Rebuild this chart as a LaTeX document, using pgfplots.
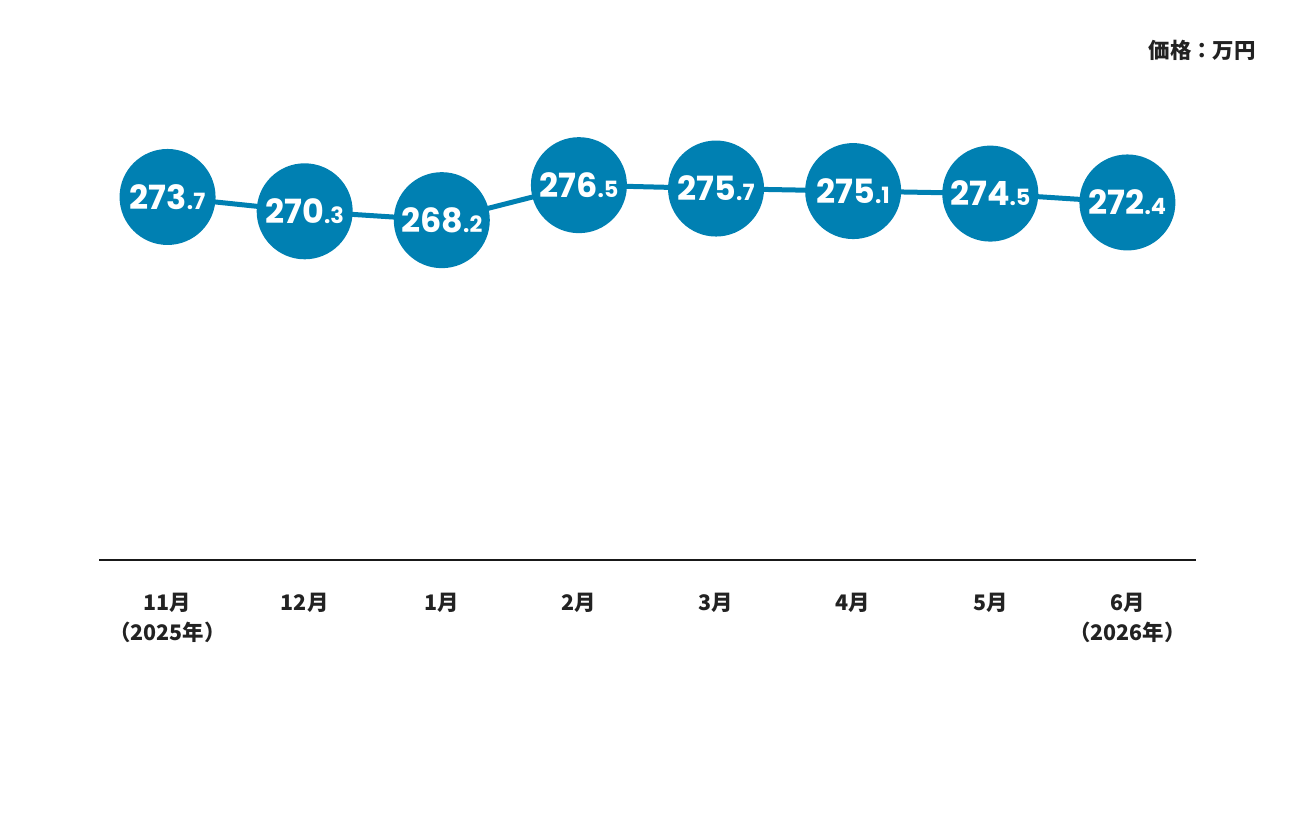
\documentclass[border=0pt]{standalone}
\usepackage{pgfplots}
\pgfplotsset{compat=1.18}
\usepackage{fontspec}
\newfontfamily\cjk{Noto Sans CJK JP}
\newfontfamily\pop{Poppins}
\definecolor{cblue}{HTML}{0080B2}
\definecolor{ctext}{HTML}{222222}
\def\splitnumi#1.#2\relax{{\fontsize{33.5}{33}\selectfont#1}{\fontsize{22.5}{22}\selectfont.#2}}
\begin{document}
\begin{tikzpicture}
\useasboundingbox (0,0) rectangle (1296bp,816bp);
\begin{axis}[
  at={(99bp,256bp)}, anchor=south west,
  scale only axis, width=1097bp, height=460bp,
  xmin=-0.5, xmax=7.5, ymin=187.6, ymax=296.7,
  clip=false,
  axis x line*=bottom, axis y line=none,
  x axis line style={-, line width=2bp, black!90},
  xtick={0,...,7}, major tick length=0pt,
  xticklabels={{11月\\（2025年）},12月,1月,2月,3月,4月,5月,{6月\\（2026年）}},
  x tick label style={font=\cjk\bfseries\fontsize{21.5}{29.5}\selectfont, text=ctext, align=center, anchor=north, yshift=-30bp},
]
\addplot[cblue, line width=5bp, mark=*, mark size=45.5bp,
  mark options={fill=cblue, draw=none},
  point meta=explicit symbolic,
  nodes near coords={\edef\tmp{\pgfplotspointmeta}\expandafter\splitnumi\tmp\relax},
  every node near coord/.append style={anchor=center, xshift=0pt, yshift=0pt, inner sep=0pt, text=white, font=\pop\bfseries},
] coordinates {
  (0,273.7) [273.7]
  (1,270.3) [270.3]
  (2,268.2) [268.2]
  (3,276.5) [276.5]
  (4,275.7) [275.7]
  (5,275.1) [275.1]
  (6,274.5) [274.5]
  (7,272.4) [272.4]
};
\end{axis}
\node[anchor=east, font=\cjk\bfseries\fontsize{21.5}{24}\selectfont, text=ctext, inner sep=0pt] at (1256bp,766bp) {価格：万円};
\end{tikzpicture}
\end{document}
